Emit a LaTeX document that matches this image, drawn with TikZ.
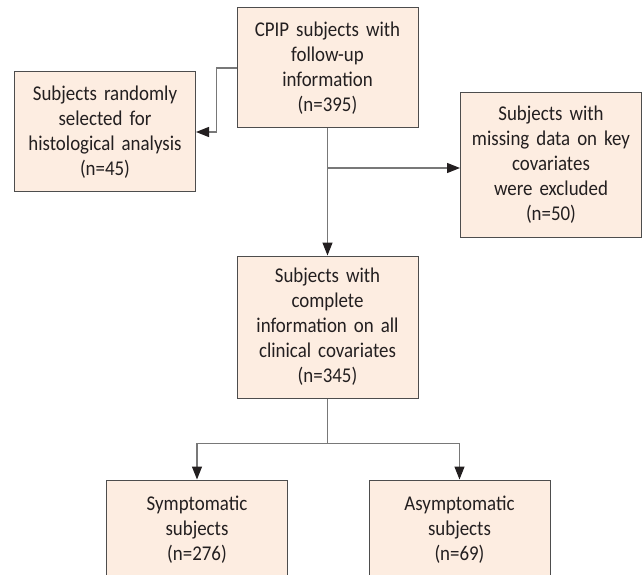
\documentclass[tikz,border=0pt]{standalone}
\usepackage{fontspec}
\setmainfont{Carlito}[FakeStretch=0.9]
\usetikzlibrary{arrows.meta}
\definecolor{boxfill}{RGB}{253,237,225}
\definecolor{boxline}{RGB}{77,77,77}
\definecolor{linkline}{RGB}{120,120,120}
\definecolor{txt}{RGB}{35,31,32}
\begin{document}
\begin{tikzpicture}[x=1pt, y=-1pt,
  box/.style={draw=boxline, fill=boxfill, rectangle, line width=1pt, inner sep=0pt,
    minimum width=181pt, text width=172pt, align=center, text=txt,
    font={\fontsize{21pt}{25pt}\selectfont}},
  link/.style={draw=linkline, line width=1.4pt, -{Triangle[length=13pt, width=10pt, color=txt]}}]

\clip (0,0) rectangle (643,575);

% first box and the two side boxes
\node[box, minimum height=120pt] at (327.5, 68) (cpip) {CPIP subjects with\\follow-up\\information\\(n=395)};
\node[box, minimum height=120pt] at (105, 132) (rand) {Subjects randomly\\selected for\\histological analysis\\(n=45)};
\node[box, minimum height=144pt] at (551, 165) (miss) {Subjects with\\missing data on key\\covariates\\were excluded\\(n=50)};

% remaining subjects
\node[box, minimum height=142pt] at (327.5, 327) (compl) {Subjects with\\complete\\information on all\\clinical covariates\\(n=345)};

% symptomatic and asymptomatic
\node[box, minimum height=100pt] at (197, 530) (symp) {Symptomatic\\subjects\\(n=276)};
\node[box, minimum height=100pt] at (459.5, 530) (asymp) {Asymptomatic\\subjects\\(n=69)};

% connectors
\draw[link] (cpip.west) -- ++(-20,0) |- (rand.east);
\draw[link] (cpip.south) -- (compl.north);
\coordinate (branch) at (327.5, 168);
\draw[link] (branch) -- (branch -| miss.west);
\draw[draw=linkline, line width=1.4pt] (compl.south) -- ++(0,45) coordinate (split);
\draw[link] (split) -| (symp.north);
\draw[link] (split) -| (asymp.north);

\end{tikzpicture}
\end{document}
